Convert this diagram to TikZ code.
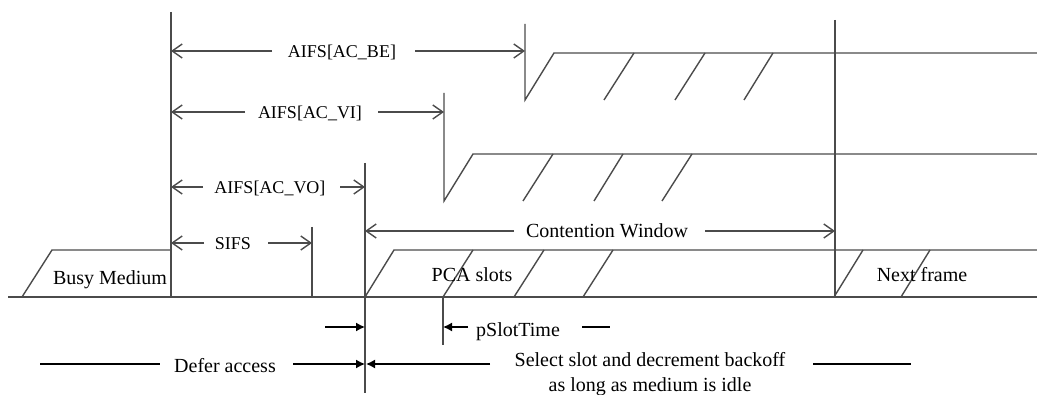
\documentclass[tikz,border=0pt]{standalone}
\usepackage{fontspec}
\setmainfont{Liberation Serif}
\usetikzlibrary{arrows.meta}
\definecolor{lncol}{RGB}{75,75,75}
\begin{document}
\begin{tikzpicture}[x=1pt,y=-1pt,
  lnk/.style={draw=lncol,line width=1.4pt},
  thick line/.style={draw=lncol,line width=2pt},
  openarr/.style={lnk,-{Straight Barb[length=10pt,width=14pt,line width=1.4pt]}},
  fillarr/.style={draw=black,line width=1.4pt,-{Latex[length=9pt,width=9pt]}},
  plainblk/.style={draw=black,line width=1.4pt},
  lbl/.style={font=\fontsize{20}{24}\selectfont,inner sep=0pt,anchor=base},
  albl/.style={font=\fontsize{18}{22}\selectfont,inner sep=0pt,anchor=base}
]
\useasboundingbox (0,0) rectangle (1037,395);

% ---- key coordinates ----
\coordinate (base0) at (8,297);
\coordinate (base1) at (1037,297);
\coordinate (bmA) at (22,297);
\coordinate (bmB) at (52,250);
\coordinate (vAtop) at (171,12);
\coordinate (vAtopm) at (171,250);
\coordinate (vAbot) at (171,297);
\coordinate (vStop) at (312,227);
\coordinate (vSbot) at (312,297);
\coordinate (vOtop) at (365,163);
\coordinate (vObot) at (365,393);
\coordinate (vO297) at (365,297);
\coordinate (pcaTop) at (394,250);
\coordinate (pcaEnd) at (1037,250);
\coordinate (vPtop) at (443,297);
\coordinate (vPbot) at (443,345);
\coordinate (vItop) at (444,93);
\coordinate (vIbot) at (444,201);
\coordinate (vIslope) at (473,154);
\coordinate (vIend) at (1037,154);
\coordinate (vBtop) at (525,24);
\coordinate (vBbot) at (525,100);
\coordinate (vBslope) at (554,53);
\coordinate (vBend) at (1037,53);
\coordinate (vNtop) at (835,20);
\coordinate (vNbot) at (835,297);

% ---- time lines ----
\draw[lnk] (base0) -- (base1);
\draw[lnk] (bmA) -- (bmB) -- (vAtopm);
\draw[lnk] (vAtop) -- (vAbot);
\draw[lnk] (vStop) -- (vSbot);
\draw[lnk] (vOtop) -- (vObot);
\draw[lnk] (vO297) -- (pcaTop) -- (pcaEnd);
\draw[lnk] (vPtop) -- (vPbot);
\draw[lnk] (vItop) -- (vIbot) -- (vIslope) -- (vIend);
\draw[lnk] (vBtop) -- (vBbot) -- (vBslope) -- (vBend);
\draw[thick line] (vNtop) -- (vNbot);

% slot slashes
\foreach \a/\b in {443/473,514/544,583/613,834/863,901/930}
  \draw[lnk] (\a,297) -- (\b,250);
\foreach \a/\b in {523/553,594/623,662/692}
  \draw[lnk] (\a,201) -- (\b,154);
\foreach \a/\b in {604/634,675/705,744/773}
  \draw[lnk] (\a,100) -- (\b,53);

% ---- labels in the medium ----
\node[lbl] (busy) at (110,285) {Busy Medium};
\node[lbl] (pca) at (472,282) {PCA slots};
\node[lbl] (next) at (922,282) {Next frame};

% ---- interval arrows ----
\node[albl] (be) at (342,57.5) {AIFS[AC\_BE]};
\coordinate (beL) at (272,51); \coordinate (beR) at (415,51);
\coordinate (beA) at (171,51); \coordinate (beB) at (525,51);
\draw[openarr] (beL) -- (beA);
\draw[openarr] (beR) -- (beB);

\node[albl] (vi) at (310,118.5) {AIFS[AC\_VI]};
\coordinate (viL) at (245,112); \coordinate (viR) at (378,112);
\coordinate (viA) at (171,112); \coordinate (viB) at (444,112);
\draw[openarr] (viL) -- (viA);
\draw[openarr] (viR) -- (viB);

\node[albl] (vo) at (270,193.5) {AIFS[AC\_VO]};
\coordinate (voL) at (203,187); \coordinate (voR) at (340,187);
\coordinate (voA) at (171,187); \coordinate (voB) at (365,187);
\draw[openarr] (voL) -- (voA);
\draw[openarr] (voR) -- (voB);

\node[albl] (sifs) at (233,249.5) {SIFS};
\coordinate (siL) at (204,243); \coordinate (siR) at (268,243);
\coordinate (siA) at (171,243); \coordinate (siB) at (312,243);
\draw[openarr] (siL) -- (siA);
\draw[openarr] (siR) -- (siB);

\node[lbl] (cw) at (607,237.5) {Contention Window};
\coordinate (cwL) at (514,231); \coordinate (cwR) at (705,231);
\coordinate (cwA) at (365,231); \coordinate (cwB) at (835,231);
\draw[openarr] (cwL) -- (cwA);
\draw[openarr] (cwR) -- (cwB);

% ---- lower annotations ----
\coordinate (psA) at (325,327); \coordinate (psB) at (365,327);
\draw[fillarr] (psA) -- (psB);
\node[lbl] (pst) at (518,337) {pSlotTime};
\coordinate (psC) at (468,327); \coordinate (psD) at (443,327);
\draw[fillarr] (psC) -- (psD);
\coordinate (psE) at (582,327); \coordinate (psF) at (610,327);
\draw[plainblk] (psE) -- (psF);

\node[lbl] (defer) at (225,373) {Defer access};
\coordinate (dfA) at (40,364); \coordinate (dfB) at (160,364);
\draw[plainblk] (dfA) -- (dfB);
\coordinate (dfC) at (293,364); \coordinate (dfD) at (365,364);
\draw[fillarr] (dfC) -- (dfD);

\node[lbl] (sel1) at (650,367) {Select slot and decrement backoff};
\node[lbl] (sel2) at (650,392) {as long as medium is idle};
\coordinate (slA) at (490,364); \coordinate (slB) at (366,364);
\draw[fillarr] (slA) -- (slB);
\coordinate (slC) at (813,364); \coordinate (slD) at (911,364);
\draw[plainblk] (slC) -- (slD);
\end{tikzpicture}
\end{document}
